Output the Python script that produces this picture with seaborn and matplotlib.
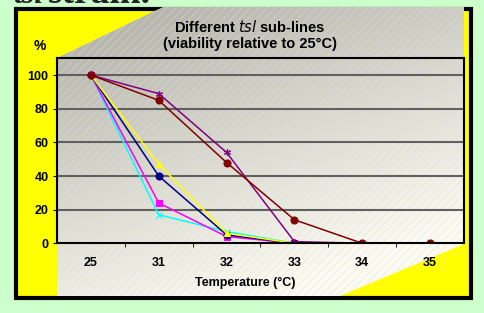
"""Viability of different tsl sub-lines across temperatures."""

import matplotlib.pyplot as plt
import numpy as np
import pandas as pd
import seaborn as sns
from matplotlib.patches import Polygon, Rectangle

temperatures = ["25", "31", "32", "33", "34", "35"]
line_names = ["cyan", "magenta", "navy", "yellow", "purple", "maroon"]
cyan_vals = [100, 17, 7, 0]
magenta_vals = [100, 24, 4, 0]
navy_vals = [100, 40, 5, 0]
yellow_vals = [100, 47, 6, 0]
purple_vals = [100, 89, 54, 1, 0, 0]
maroon_vals = [100, 85, 48, 14, 0, 0]

series = {
    "cyan": cyan_vals,
    "magenta": magenta_vals,
    "navy": navy_vals,
    "yellow": yellow_vals,
    "purple": purple_vals,
    "maroon": maroon_vals,
}
colors = {
    "cyan": "#00ffff",
    "magenta": "#ff00ff",
    "navy": "#000080",
    "yellow": "#ffff00",
    "purple": "#800080",
    "maroon": "#800000",
}
markers = {
    "cyan": "x",
    "magenta": "s",
    "navy": "o",
    "yellow": "^",
    "purple": (6, 2, 0),
    "maroon": "o",
}

rows = []
for name in line_names:
    for temp, val in zip(temperatures, series[name]):
        rows.append({"Temperature": temp, "Viability": val, "Line": name})
df = pd.DataFrame(rows)

plt.rcParams["font.family"] = ["Liberation Sans", "DejaVu Sans"]

W, H = 485, 313
fig = plt.figure(figsize=(W / 100, H / 100), dpi=100, facecolor="#ccffcc")

# background decoration in pixel coordinates
bg = fig.add_axes([0, 0, 1, 1], zorder=0)
bg.add_patch(Rectangle((16.5, 8.5), 455, 289, facecolor="#ffff00",
                       edgecolor="black", linewidth=3, zorder=1))
poly_pts = [(163, 7), (464, 7), (464, 244), (340, 296), (57, 296), (57, 58)]
xx, yy = np.meshgrid(np.linspace(0, W, 200), np.linspace(0, H, 130))
shade = np.clip(0.68 + 0.12 * (xx - 57) / 407 + 0.24 * (yy - 11) / 285, 0, 0.98)
img = bg.imshow(shade, cmap="gray", vmin=0, vmax=1, extent=(0, W, H, 0),
                aspect="auto", interpolation="bilinear", zorder=2)
clip = Polygon(poly_pts, closed=True, facecolor="none", edgecolor="none")
bg.add_patch(clip)
img.set_clip_path(clip)
plt.rcParams["hatch.linewidth"] = 0.5
bg.add_patch(Polygon(poly_pts, closed=True, facecolor="none",
                     edgecolor="#ecec70", hatch="////", linewidth=0,
                     alpha=0.6, zorder=3))
bg.set_xlim(0, W)
bg.set_ylim(H, 0)
bg.axis("off")

# heading above the chart, mostly cut off by the top edge
fig.text(13 / W, 1 - 3 / H, "tsl", fontsize=23, fontweight="bold",
         fontstyle="italic", family=["Liberation Serif"], va="baseline",
         color="#222222")
fig.text(48 / W, 1 - 3 / H, "strain.", fontsize=27, fontweight="bold",
         family=["Liberation Serif"], va="baseline", color="#222222")

ax = fig.add_axes([57 / W, 1 - 243.3 / H, 407 / W, 185 / H], zorder=2)
ax.patch.set_alpha(0)

for name in line_names:
    sub = df[df["Line"] == name]
    sns.pointplot(
        data=sub, x="Temperature", y="Viability", order=temperatures,
        color=colors[name], marker=markers[name], markersize=5,
        linewidth=1.1, errorbar=None, ax=ax,
    )

ax.set_ylim(0, 110)
ax.set_xlim(-0.5, 5.5)
ax.set_yticks([0, 20, 40, 60, 80, 100])
for v in [20, 40, 60, 80, 100]:
    ax.axhline(v, color="#606060", linewidth=1.5, zorder=0)
for side in ["left", "bottom", "top", "right"]:
    ax.spines[side].set_color("black")
    ax.spines[side].set_linewidth(1.5)

ax.set_xticks(np.arange(0.5, 5.5, 1), minor=True)
ax.tick_params(axis="x", which="major", length=0, pad=10)
ax.tick_params(axis="x", which="minor", length=3, direction="out")
ax.tick_params(axis="y", length=3, pad=3)
for lbl in ax.get_xticklabels() + ax.get_yticklabels():
    lbl.set_fontweight("bold")
    lbl.set_fontsize(9)

ax.set_xlabel("Temperature (°C)", fontsize=9, fontweight="bold")
ax.xaxis.set_label_coords((245 - 57) / 407, -(283 - 243.3) / 185)
ax.xaxis.label.set_va("center")
ax.set_ylabel("")

fig.text(250 / W, 1 - 27 / H, "Different $\\bf{\\it{tsl}}$ sub-lines",
         ha="center", va="center", fontsize=10.5, fontweight="bold")
fig.text(250 / W, 1 - 44 / H, "(viability relative to 25°C)",
         ha="center", va="center", fontsize=10.5, fontweight="bold")
fig.text(40 / W, 1 - 46 / H, "%", ha="center", va="center", fontsize=10,
         fontweight="bold")

fig.savefig("out.png", dpi=100, facecolor=fig.get_facecolor())
